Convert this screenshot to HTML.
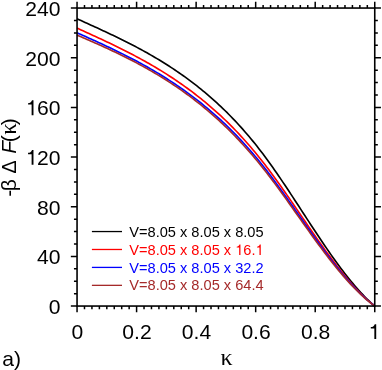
<!DOCTYPE html>
<html><head><meta charset="utf-8"><title>chart</title>
<style>html,body{margin:0;padding:0;background:#fff;}svg{display:block;position:absolute;left:0;top:0;}svg{will-change:transform}text{filter:opacity(1)}</style></head>
<body><svg width="382" height="370" viewBox="0 0 382 370">
<rect width="382" height="370" fill="#fff"/>
<path d="M77.05,18.79 L79.05,19.69 L81.05,20.60 L83.04,21.50 L85.04,22.41 L87.04,23.31 L89.04,24.22 L91.04,25.13 L93.03,26.04 L95.03,26.95 L97.03,27.87 L99.03,28.79 L101.03,29.71 L103.02,30.63 L105.02,31.57 L107.02,32.50 L109.02,33.44 L111.02,34.39 L113.01,35.34 L115.01,36.30 L117.01,37.27 L119.01,38.24 L121.01,39.22 L123.00,40.21 L125.00,41.21 L127.00,42.21 L129.00,43.23 L131.00,44.25 L132.99,45.29 L134.99,46.33 L136.99,47.39 L138.99,48.45 L140.99,49.53 L142.98,50.62 L144.98,51.72 L146.98,52.84 L148.98,53.97 L150.98,55.11 L152.97,56.26 L154.97,57.43 L156.97,58.61 L158.97,59.81 L160.97,61.03 L162.96,62.26 L164.96,63.50 L166.96,64.76 L168.96,66.04 L170.96,67.34 L172.95,68.65 L174.95,69.99 L176.95,71.34 L178.95,72.71 L180.95,74.10 L182.94,75.50 L184.94,76.93 L186.94,78.38 L188.94,79.85 L190.94,81.34 L192.93,82.86 L194.93,84.39 L196.93,85.95 L198.93,87.53 L200.93,89.14 L202.92,90.77 L204.92,92.43 L206.92,94.11 L208.92,95.82 L210.92,97.55 L212.91,99.31 L214.91,101.10 L216.91,102.92 L218.91,104.77 L220.91,106.64 L222.90,108.55 L224.90,110.49 L226.90,112.46 L228.90,114.46 L230.89,116.49 L232.89,118.56 L234.89,120.65 L236.89,122.79 L238.89,124.95 L240.88,127.16 L242.88,129.39 L244.88,131.67 L246.88,133.98 L248.88,136.33 L250.87,138.71 L252.87,141.14 L254.87,143.60 L256.87,146.10 L258.87,148.65 L260.86,151.23 L262.86,153.85 L264.86,156.52 L266.86,159.23 L268.86,161.97 L270.85,164.75 L272.85,167.57 L274.85,170.42 L276.85,173.30 L278.85,176.20 L280.84,179.14 L282.84,182.09 L284.84,185.07 L286.84,188.06 L288.84,191.08 L290.83,194.10 L292.83,197.14 L294.83,200.20 L296.83,203.25 L298.83,206.32 L300.82,209.39 L302.82,212.46 L304.82,215.53 L306.82,218.59 L308.82,221.65 L310.81,224.71 L312.81,227.75 L314.81,230.79 L316.81,233.80 L318.81,236.81 L320.80,239.79 L322.80,242.76 L324.80,245.70 L326.80,248.62 L328.80,251.51 L330.79,254.38 L332.79,257.21 L334.79,260.01 L336.79,262.77 L338.79,265.50 L340.78,268.19 L342.78,270.84 L344.78,273.45 L346.78,276.01 L348.78,278.52 L350.77,280.99 L352.77,283.40 L354.77,285.76 L356.77,288.07 L358.77,290.32 L360.76,292.51 L362.76,294.64 L364.76,296.71 L366.76,298.71 L368.76,300.65 L370.75,302.52 L372.75,304.32 L374.75,306.05" fill="none" stroke="#000000" stroke-width="1.65" stroke-linejoin="round"/>
<path d="M77.05,28.12 L79.05,29.03 L81.05,29.94 L83.04,30.85 L85.04,31.75 L87.04,32.66 L89.04,33.58 L91.04,34.49 L93.03,35.41 L95.03,36.32 L97.03,37.25 L99.03,38.17 L101.03,39.10 L103.02,40.04 L105.02,40.98 L107.02,41.92 L109.02,42.87 L111.02,43.82 L113.01,44.79 L115.01,45.75 L117.01,46.73 L119.01,47.71 L121.01,48.70 L123.00,49.70 L125.00,50.70 L127.00,51.72 L129.00,52.74 L131.00,53.78 L132.99,54.82 L134.99,55.87 L136.99,56.94 L138.99,58.01 L140.99,59.10 L142.98,60.19 L144.98,61.30 L146.98,62.43 L148.98,63.56 L150.98,64.71 L152.97,65.87 L154.97,67.04 L156.97,68.23 L158.97,69.44 L160.97,70.66 L162.96,71.89 L164.96,73.14 L166.96,74.40 L168.96,75.69 L170.96,76.98 L172.95,78.30 L174.95,79.63 L176.95,80.98 L178.95,82.35 L180.95,83.74 L182.94,85.14 L184.94,86.57 L186.94,88.01 L188.94,89.47 L190.94,90.96 L192.93,92.46 L194.93,93.99 L196.93,95.54 L198.93,97.11 L200.93,98.70 L202.92,100.31 L204.92,101.95 L206.92,103.62 L208.92,105.31 L210.92,107.02 L212.91,108.76 L214.91,110.52 L216.91,112.31 L218.91,114.13 L220.91,115.98 L222.90,117.85 L224.90,119.76 L226.90,121.69 L228.90,123.65 L230.89,125.64 L232.89,127.67 L234.89,129.72 L236.89,131.80 L238.89,133.92 L240.88,136.07 L242.88,138.25 L244.88,140.47 L246.88,142.72 L248.88,145.00 L250.87,147.32 L252.87,149.67 L254.87,152.06 L256.87,154.48 L258.87,156.95 L260.86,159.44 L262.86,161.98 L264.86,164.55 L266.86,167.17 L268.86,169.81 L270.85,172.49 L272.85,175.20 L274.85,177.94 L276.85,180.71 L278.85,183.50 L280.84,186.31 L282.84,189.15 L284.84,192.00 L286.84,194.87 L288.84,197.75 L290.83,200.64 L292.83,203.54 L294.83,206.46 L296.83,209.37 L298.83,212.29 L300.82,215.21 L302.82,218.14 L304.82,221.05 L306.82,223.97 L308.82,226.87 L310.81,229.77 L312.81,232.66 L314.81,235.53 L316.81,238.39 L318.81,241.23 L320.80,244.05 L322.80,246.85 L324.80,249.63 L326.80,252.38 L328.80,255.11 L330.79,257.80 L332.79,260.47 L334.79,263.10 L336.79,265.70 L338.79,268.26 L340.78,270.79 L342.78,273.27 L344.78,275.71 L346.78,278.11 L348.78,280.46 L350.77,282.76 L352.77,285.01 L354.77,287.21 L356.77,289.36 L358.77,291.46 L360.76,293.50 L362.76,295.48 L364.76,297.40 L366.76,299.26 L368.76,301.05 L370.75,302.78 L372.75,304.45 L374.75,306.05" fill="none" stroke="#ff0000" stroke-width="1.65" stroke-linejoin="round"/>
<path d="M77.05,32.77 L79.05,33.66 L81.05,34.55 L83.04,35.45 L85.04,36.34 L87.04,37.24 L89.04,38.14 L91.04,39.04 L93.03,39.95 L95.03,40.86 L97.03,41.77 L99.03,42.69 L101.03,43.61 L103.02,44.53 L105.02,45.47 L107.02,46.40 L109.02,47.34 L111.02,48.29 L113.01,49.25 L115.01,50.21 L117.01,51.18 L119.01,52.16 L121.01,53.14 L123.00,54.13 L125.00,55.14 L127.00,56.15 L129.00,57.17 L131.00,58.20 L132.99,59.24 L134.99,60.29 L136.99,61.35 L138.99,62.42 L140.99,63.50 L142.98,64.60 L144.98,65.71 L146.98,66.83 L148.98,67.96 L150.98,69.10 L152.97,70.26 L154.97,71.44 L156.97,72.62 L158.97,73.83 L160.97,75.04 L162.96,76.27 L164.96,77.52 L166.96,78.79 L168.96,80.07 L170.96,81.36 L172.95,82.67 L174.95,84.01 L176.95,85.35 L178.95,86.72 L180.95,88.10 L182.94,89.51 L184.94,90.93 L186.94,92.37 L188.94,93.83 L190.94,95.31 L192.93,96.81 L194.93,98.33 L196.93,99.87 L198.93,101.44 L200.93,103.02 L202.92,104.63 L204.92,106.27 L206.92,107.92 L208.92,109.60 L210.92,111.31 L212.91,113.04 L214.91,114.79 L216.91,116.57 L218.91,118.38 L220.91,120.22 L222.90,122.08 L224.90,123.97 L226.90,125.89 L228.90,127.83 L230.89,129.81 L232.89,131.81 L234.89,133.85 L236.89,135.92 L238.89,138.01 L240.88,140.14 L242.88,142.30 L244.88,144.49 L246.88,146.71 L248.88,148.97 L250.87,151.26 L252.87,153.59 L254.87,155.95 L256.87,158.34 L258.87,160.77 L260.86,163.23 L262.86,165.73 L264.86,168.27 L266.86,170.84 L268.86,173.44 L270.85,176.08 L272.85,178.74 L274.85,181.44 L276.85,184.15 L278.85,186.90 L280.84,189.66 L282.84,192.44 L284.84,195.23 L286.84,198.05 L288.84,200.87 L290.83,203.70 L292.83,206.55 L294.83,209.40 L296.83,212.25 L298.83,215.11 L300.82,217.96 L302.82,220.82 L304.82,223.67 L306.82,226.51 L308.82,229.35 L310.81,232.17 L312.81,234.99 L314.81,237.79 L316.81,240.57 L318.81,243.34 L320.80,246.09 L322.80,248.81 L324.80,251.51 L326.80,254.19 L328.80,256.84 L330.79,259.45 L332.79,262.04 L334.79,264.60 L336.79,267.12 L338.79,269.60 L340.78,272.04 L342.78,274.45 L344.78,276.81 L346.78,279.13 L348.78,281.40 L350.77,283.62 L352.77,285.80 L354.77,287.93 L356.77,290.00 L358.77,292.02 L360.76,293.98 L362.76,295.89 L364.76,297.74 L366.76,299.52 L368.76,301.25 L370.75,302.92 L372.75,304.51 L374.75,306.05" fill="none" stroke="#0000ff" stroke-width="1.65" stroke-linejoin="round"/>
<path d="M77.05,35.12 L79.05,35.97 L81.05,36.83 L83.04,37.70 L85.04,38.56 L87.04,39.43 L89.04,40.30 L91.04,41.17 L93.03,42.05 L95.03,42.94 L97.03,43.82 L99.03,44.72 L101.03,45.62 L103.02,46.52 L105.02,47.43 L107.02,48.35 L109.02,49.27 L111.02,50.20 L113.01,51.14 L115.01,52.09 L117.01,53.04 L119.01,54.01 L121.01,54.98 L123.00,55.96 L125.00,56.95 L127.00,57.95 L129.00,58.97 L131.00,59.99 L132.99,61.02 L134.99,62.06 L136.99,63.12 L138.99,64.19 L140.99,65.27 L142.98,66.36 L144.98,67.47 L146.98,68.58 L148.98,69.72 L150.98,70.86 L152.97,72.02 L154.97,73.20 L156.97,74.39 L158.97,75.59 L160.97,76.81 L162.96,78.05 L164.96,79.30 L166.96,80.57 L168.96,81.86 L170.96,83.16 L172.95,84.48 L174.95,85.82 L176.95,87.18 L178.95,88.55 L180.95,89.94 L182.94,91.36 L184.94,92.79 L186.94,94.24 L188.94,95.71 L190.94,97.20 L192.93,98.71 L194.93,100.25 L196.93,101.80 L198.93,103.38 L200.93,104.98 L202.92,106.60 L204.92,108.25 L206.92,109.92 L208.92,111.61 L210.92,113.33 L212.91,115.07 L214.91,116.84 L216.91,118.63 L218.91,120.45 L220.91,122.30 L222.90,124.17 L224.90,126.08 L226.90,128.01 L228.90,129.96 L230.89,131.95 L232.89,133.97 L234.89,136.01 L236.89,138.09 L238.89,140.19 L240.88,142.33 L242.88,144.50 L244.88,146.69 L246.88,148.92 L248.88,151.19 L250.87,153.48 L252.87,155.81 L254.87,158.17 L256.87,160.57 L258.87,163.00 L260.86,165.46 L262.86,167.96 L264.86,170.49 L266.86,173.06 L268.86,175.65 L270.85,178.28 L272.85,180.94 L274.85,183.62 L276.85,186.33 L278.85,189.06 L280.84,191.80 L282.84,194.57 L284.84,197.35 L286.84,200.14 L288.84,202.94 L290.83,205.75 L292.83,208.57 L294.83,211.40 L296.83,214.22 L298.83,217.05 L300.82,219.88 L302.82,222.70 L304.82,225.51 L306.82,228.32 L308.82,231.12 L310.81,233.91 L312.81,236.69 L314.81,239.45 L316.81,242.19 L318.81,244.91 L320.80,247.61 L322.80,250.29 L324.80,252.94 L326.80,255.57 L328.80,258.17 L330.79,260.73 L332.79,263.27 L334.79,265.77 L336.79,268.24 L338.79,270.66 L340.78,273.05 L342.78,275.40 L344.78,277.70 L346.78,279.96 L348.78,282.17 L350.77,284.34 L352.77,286.46 L354.77,288.52 L356.77,290.53 L358.77,292.49 L360.76,294.40 L362.76,296.24 L364.76,298.03 L366.76,299.76 L368.76,301.43 L370.75,303.03 L372.75,304.57 L374.75,306.05" fill="none" stroke="#a52a2a" stroke-width="1.65" stroke-linejoin="round"/>
<rect x="77.05" y="8.05" width="297.7" height="298.0" fill="none" stroke="#000" stroke-width="1.6"/>
<path d="M77.05,8.05 v-6.2 M77.05,306.05 v6.2 M84.49,8.05 v-3.1 M84.49,306.05 v3.1 M91.94,8.05 v-3.1 M91.94,306.05 v3.1 M99.38,8.05 v-3.1 M99.38,306.05 v3.1 M106.82,8.05 v-3.1 M106.82,306.05 v3.1 M114.26,8.05 v-3.1 M114.26,306.05 v3.1 M121.70,8.05 v-3.1 M121.70,306.05 v3.1 M129.15,8.05 v-3.1 M129.15,306.05 v3.1 M136.59,8.05 v-6.2 M136.59,306.05 v6.2 M144.03,8.05 v-3.1 M144.03,306.05 v3.1 M151.47,8.05 v-3.1 M151.47,306.05 v3.1 M158.92,8.05 v-3.1 M158.92,306.05 v3.1 M166.36,8.05 v-3.1 M166.36,306.05 v3.1 M173.80,8.05 v-3.1 M173.80,306.05 v3.1 M181.25,8.05 v-3.1 M181.25,306.05 v3.1 M188.69,8.05 v-3.1 M188.69,306.05 v3.1 M196.13,8.05 v-6.2 M196.13,306.05 v6.2 M203.57,8.05 v-3.1 M203.57,306.05 v3.1 M211.01,8.05 v-3.1 M211.01,306.05 v3.1 M218.46,8.05 v-3.1 M218.46,306.05 v3.1 M225.90,8.05 v-3.1 M225.90,306.05 v3.1 M233.34,8.05 v-3.1 M233.34,306.05 v3.1 M240.78,8.05 v-3.1 M240.78,306.05 v3.1 M248.23,8.05 v-3.1 M248.23,306.05 v3.1 M255.67,8.05 v-6.2 M255.67,306.05 v6.2 M263.11,8.05 v-3.1 M263.11,306.05 v3.1 M270.56,8.05 v-3.1 M270.56,306.05 v3.1 M278.00,8.05 v-3.1 M278.00,306.05 v3.1 M285.44,8.05 v-3.1 M285.44,306.05 v3.1 M292.88,8.05 v-3.1 M292.88,306.05 v3.1 M300.32,8.05 v-3.1 M300.32,306.05 v3.1 M307.77,8.05 v-3.1 M307.77,306.05 v3.1 M315.21,8.05 v-6.2 M315.21,306.05 v6.2 M322.65,8.05 v-3.1 M322.65,306.05 v3.1 M330.09,8.05 v-3.1 M330.09,306.05 v3.1 M337.54,8.05 v-3.1 M337.54,306.05 v3.1 M344.98,8.05 v-3.1 M344.98,306.05 v3.1 M352.42,8.05 v-3.1 M352.42,306.05 v3.1 M359.87,8.05 v-3.1 M359.87,306.05 v3.1 M367.31,8.05 v-3.1 M367.31,306.05 v3.1 M374.75,8.05 v-6.2 M374.75,306.05 v6.2 M77.05,306.05 h-6.2 M374.75,306.05 h6.2 M77.05,293.63 h-3.1 M374.75,293.63 h3.1 M77.05,281.22 h-3.1 M374.75,281.22 h3.1 M77.05,268.80 h-3.1 M374.75,268.80 h3.1 M77.05,256.38 h-6.2 M374.75,256.38 h6.2 M77.05,243.97 h-3.1 M374.75,243.97 h3.1 M77.05,231.55 h-3.1 M374.75,231.55 h3.1 M77.05,219.13 h-3.1 M374.75,219.13 h3.1 M77.05,206.72 h-6.2 M374.75,206.72 h6.2 M77.05,194.30 h-3.1 M374.75,194.30 h3.1 M77.05,181.88 h-3.1 M374.75,181.88 h3.1 M77.05,169.47 h-3.1 M374.75,169.47 h3.1 M77.05,157.05 h-6.2 M374.75,157.05 h6.2 M77.05,144.63 h-3.1 M374.75,144.63 h3.1 M77.05,132.22 h-3.1 M374.75,132.22 h3.1 M77.05,119.80 h-3.1 M374.75,119.80 h3.1 M77.05,107.38 h-6.2 M374.75,107.38 h6.2 M77.05,94.97 h-3.1 M374.75,94.97 h3.1 M77.05,82.55 h-3.1 M374.75,82.55 h3.1 M77.05,70.13 h-3.1 M374.75,70.13 h3.1 M77.05,57.72 h-6.2 M374.75,57.72 h6.2 M77.05,45.30 h-3.1 M374.75,45.30 h3.1 M77.05,32.88 h-3.1 M374.75,32.88 h3.1 M77.05,20.47 h-3.1 M374.75,20.47 h3.1 M77.05,8.05 h-6.2 M374.75,8.05 h6.2" fill="none" stroke="#000" stroke-width="1.5"/>
<g font-family="Liberation Sans" font-size="21.1" fill="#000"><text x="60.5" y="313.85" text-anchor="end">0</text><text x="60.5" y="264.18" text-anchor="end">40</text><text x="60.5" y="214.52" text-anchor="end">80</text><text x="60.5" y="164.85" text-anchor="end">20</text><path d="M33.48,164.85 L31.62,164.85 L31.62,154.19 L28.06,154.19 L28.06,152.87 C29.91,152.72 31.29,151.87 32.05,149.89 L33.48,149.89 Z" fill="#000"/><text x="60.5" y="115.18" text-anchor="end">60</text><path d="M33.48,115.18 L31.62,115.18 L31.62,104.53 L28.06,104.53 L28.06,103.20 C29.91,103.05 31.29,102.21 32.05,100.22 L33.48,100.22 Z" fill="#000"/><text x="60.5" y="65.52" text-anchor="end">200</text><text x="60.5" y="15.85" text-anchor="end">240</text><text x="77.45" y="339.1" text-anchor="middle">0</text><text x="136.99" y="339.1" text-anchor="middle">0.2</text><text x="196.53" y="339.1" text-anchor="middle">0.4</text><text x="256.07" y="339.1" text-anchor="middle">0.6</text><text x="315.61" y="339.1" text-anchor="middle">0.8</text><path d="M376.21,339.10 L374.35,339.10 L374.35,328.44 L370.79,328.44 L370.79,327.12 C372.64,326.97 374.01,326.12 374.77,324.14 L376.21,324.14 Z" fill="#000"/><text x="2.2" y="365.8">a)</text><text x="226.6" y="364.9" text-anchor="middle" font-family="Liberation Serif" font-size="24">κ</text><text transform="translate(16.2,196.5) rotate(-90)"><tspan x="-0.3">-</tspan><tspan x="5.2">β</tspan><tspan x="22.9" font-size="19.8">Δ</tspan><tspan x="42.8" font-style="italic">F</tspan><tspan x="54.3">(</tspan><tspan x="61.7" font-family="Liberation Serif" font-size="23">κ</tspan><tspan x="71.3">)</tspan></text></g>
<g font-family="Liberation Sans" font-size="14.6"><path d="M91.9,231.55 H122.0" stroke="#000000" stroke-width="1.3" fill="none"/><text x="129.3" y="237.30" fill="#000000">V=8.05 x 8.05 x 8.05</text><path d="M91.9,249.48 H122.0" stroke="#ff0000" stroke-width="1.3" fill="none"/><text x="129.3" y="254.97" fill="#ff0000">V=8.05 x 8.05 x <tspan x="243.34">6.</tspan></text><path d="M240.46,254.97 L239.18,254.97 L239.18,247.60 L236.71,247.60 L236.71,246.68 C238.00,246.58 238.95,245.99 239.47,244.62 L240.46,244.62 Z" fill="#ff0000"/><path d="M260.76,254.97 L259.47,254.97 L259.47,247.60 L257.01,247.60 L257.01,246.68 C258.29,246.58 259.24,245.99 259.77,244.62 L260.76,244.62 Z" fill="#ff0000"/><path d="M91.9,267.41 H122.0" stroke="#0000ff" stroke-width="1.3" fill="none"/><text x="129.3" y="272.64" fill="#0000ff">V=8.05 x 8.05 x 32.2</text><path d="M91.9,285.34 H122.0" stroke="#a52a2a" stroke-width="1.3" fill="none"/><text x="129.3" y="290.31" fill="#a52a2a">V=8.05 x 8.05 x 64.4</text></g>
</svg></body></html>
